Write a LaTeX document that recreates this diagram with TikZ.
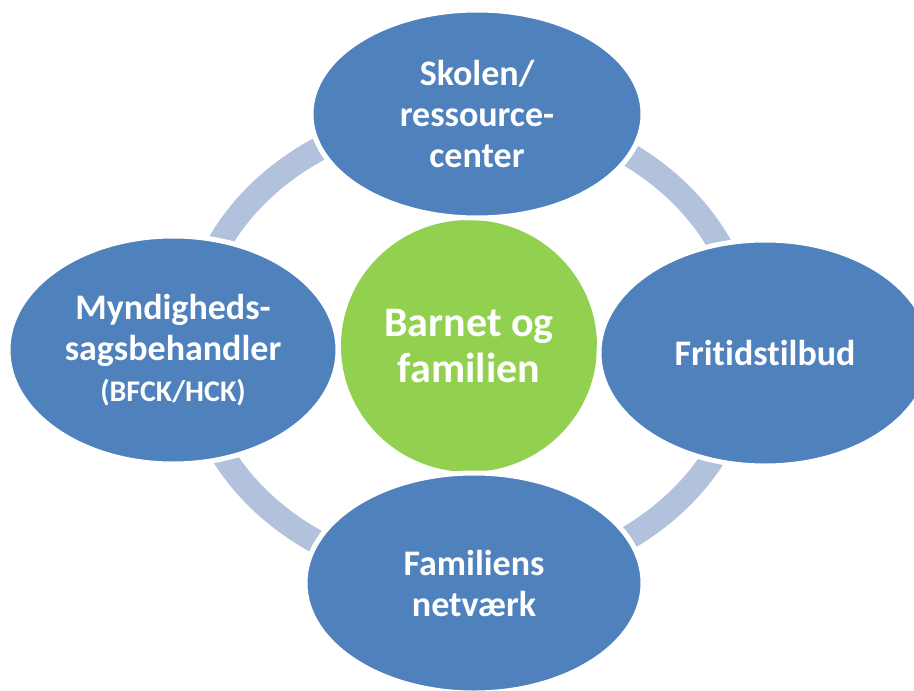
\documentclass[tikz,border=0pt]{standalone}
\usepackage{fontspec}
\setmainfont{Carlito}[Ligatures=NoCommon]
\usetikzlibrary{shapes.geometric}
\definecolor{partblue}{HTML}{4F81BD}
\definecolor{ringblue}{HTML}{B3C2DC}
\definecolor{kidgreen}{HTML}{92D050}
\tikzset{
	part/.style={ellipse,draw=white,line width=5pt,fill=partblue,text=white,inner sep=0pt,align=center,font=\bfseries\fontsize{36}{41}\selectfont},
	ring/.style={line width=24pt,draw=ringblue}
}
\begin{document}
\begin{tikzpicture}[x=1pt,y=-1pt]
	\clip (0,0) rectangle (914,691);
	\node [ellipse,fill=kidgreen,text=white,inner sep=0pt,minimum width=256pt,minimum height=252pt,align=center,font=\bfseries\fontsize{42}{46}\selectfont] (0) at (469,346) {Barnet og\\familien};
	\draw [ring] (0.center) ellipse [x radius=278pt,y radius=234pt];
	\node [part,minimum width=332pt,minimum height=208pt] (1) at (477,114) {Skolen/\\ressource-\\center};
	\node [part,minimum width=332pt,minimum height=226pt] (2) at (765,353) {Fritidstilbud};
	\node [part,minimum width=338pt,minimum height=220pt] (3) at (474,583) {Familiens\\netværk};
	\node [part,minimum width=330pt,minimum height=228pt] (4) at (173,350) {Myndigheds-\\sagsbehandler\\{\fontsize{30}{36}\selectfont (BFCK/HCK)}};
\end{tikzpicture}
\end{document}
